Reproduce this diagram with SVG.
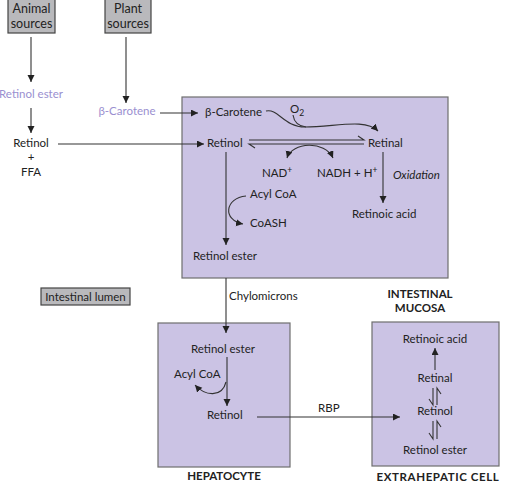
<svg xmlns="http://www.w3.org/2000/svg" width="507" height="485" viewBox="0 0 507 485">
<style>
text{font-family:Lato,"Open Sans","DejaVu Sans",sans-serif;font-size:11.5px;fill:#222}
.p{fill:#9a8fd0}
.b{font-weight:bold;font-size:11.5px}
.i{font-style:italic}
.c{text-anchor:middle}
.s{font-size:12.5px}
.cell{fill:#cbc3e4;stroke:#6e6e6e;stroke-width:1.2}
.gray{fill:#b9b9bc;stroke:#444;stroke-width:1.2}
.ln{fill:none;stroke:#333;stroke-width:1.1}
.ar{marker-end:url(#ah)}
</style>
<defs>
<marker id="ah" markerUnits="userSpaceOnUse" markerWidth="8" markerHeight="8" refX="7" refY="3.5" orient="auto-start-reverse">
<path d="M0,0 L7,3.5 L0,7 z" fill="#222"/>
</marker>
</defs>
<g id="intestinal-mucosa">
<rect class="cell" x="182" y="97" width="266" height="181"/>
<text class="b c" x="420" y="298">INTESTINAL</text>
<text class="b c" x="420" y="312">MUCOSA</text>
<text x="205" y="116">β-Carotene</text>
<text x="290" y="113">O<tspan font-size="8.5" dy="3">2</tspan></text>
<text x="207" y="147">Retinol</text>
<text x="368" y="147">Retinal</text>
<text x="262" y="177">NAD<tspan font-size="8.5" dy="-4">+</tspan></text>
<text x="317" y="177">NADH + H<tspan font-size="8.5" dy="-4">+</tspan></text>
<text class="i" x="393" y="179">Oxidation</text>
<text x="352" y="218">Retinoic acid</text>
<text x="250" y="198">Acyl CoA</text>
<text x="250" y="227">CoASH</text>
<text x="193" y="260">Retinol ester</text>
</g>
<g id="animal-sources">
<rect class="gray" x="8" y="-1" width="47" height="34"/>
<text class="c s" x="31.5" y="13">Animal</text>
<text class="c s" x="31.5" y="27.5">sources</text>
</g>
<g id="plant-sources">
<rect class="gray" x="105" y="-1" width="46" height="34"/>
<text class="c s" x="128" y="13">Plant</text>
<text class="c s" x="128" y="27.5">sources</text>
</g>
<g id="lumen-retinol-ester"><text class="p c" x="31" y="98">Retinol ester</text></g>
<g id="lumen-beta-carotene"><text class="p c" x="127" y="115">β-Carotene</text></g>
<g id="lumen-retinol">
<text class="c" x="31" y="147">Retinol</text>
<text class="c" x="31" y="161">+</text>
<text class="c" x="31" y="176">FFA</text>
</g>
<g id="intestinal-lumen">
<rect class="gray" x="41" y="288" width="89" height="17"/>
<text class="c" x="85.5" y="300.5">Intestinal lumen</text>
</g>
<g id="hepatocyte">
<rect class="cell" x="158" y="323" width="132" height="144"/>
<text class="b c" x="224" y="480">HEPATOCYTE</text>
<text x="191" y="353">Retinol ester</text>
<text x="174" y="378">Acyl CoA</text>
<text x="207" y="419">Retinol</text>
</g>
<g id="extrahepatic-cell">
<rect class="cell" x="372" y="322" width="127" height="144"/>
<text class="b c" x="438" y="481" letter-spacing="0.6">EXTRAHEPATIC CELL</text>
<text class="c" x="435" y="343">Retinoic acid</text>
<text class="c" x="435" y="382">Retinal</text>
<text class="c" x="435" y="415">Retinol</text>
<text class="c" x="435" y="454">Retinol ester</text>
</g>
<g id="connectors">
<path class="ln ar" d="M31,37 V82"/>
<path class="ln ar" d="M31,108 V133"/>
<path class="ln ar" d="M126,37 V103"/>
<path class="ln ar" d="M160,113 H198"/>
<path class="ln ar" d="M58,144 H204"/>
<path class="ln ar" d="M266,111 C278,108 284,127 305,127 C335,127 365,118 378,131"/>
<path class="ln" d="M293,115 C294,122 298,126 306,127"/>
<path class="ln" d="M249,140 H364 L358,136"/>
<path class="ln" d="M364,144 H249 L255,148"/>
<path class="ln" d="M287,158 C292,142 325,140 333,158" marker-start="url(#ah)" marker-end="url(#ah)"/>
<path class="ln ar" d="M383,152 V203"/>
<path class="ln ar" d="M226,152 V245"/>
<path class="ln ar" d="M246,196 C225,198 222,220 243,224"/>
<text x="229" y="300">Chylomicrons</text>
<path class="ln ar" d="M226,278 V333"/>
<path class="ln ar" d="M227,357 V406"/>
<path class="ln ar" d="M226,382 C222,398 205,396 195,385"/>
<text x="318" y="412">RBP</text>
<path class="ln ar" d="M257,417 H400"/>
<path class="ln ar" d="M435,370 V348"/>
<path class="ln" d="M433,388 V405 L429,399"/>
<path class="ln" d="M437,405 V388 L441,394"/>
<path class="ln" d="M433,421 V439 L429,433"/>
<path class="ln" d="M437,439 V421 L441,427"/>
</g>
</svg>
